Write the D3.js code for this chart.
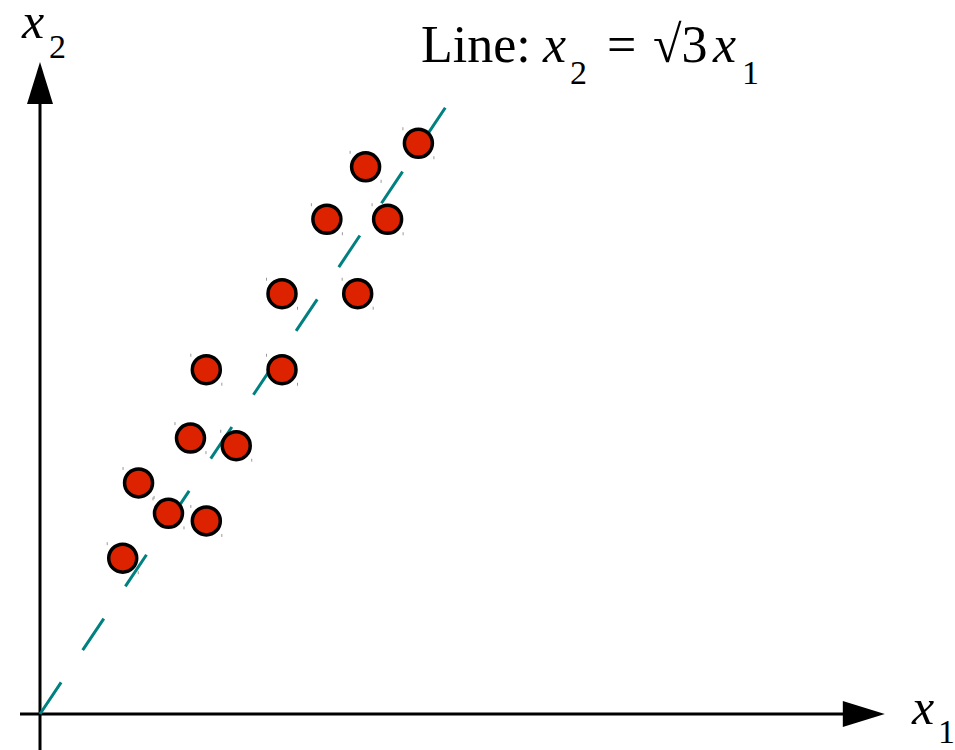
<!DOCTYPE html>
<html>
<head>
<meta charset="utf-8">
<script src="https://cdn.jsdelivr.net/npm/d3@7"></script>
<style>
  html, body { margin: 0; padding: 0; background: #fff; }
  svg { display: block; }
  text { font-family: "Liberation Serif", "Times New Roman", serif; fill: #000; }
</style>
</head>
<body>
<div id="chart"></div>
<script>
// Sample points (x1, x2) scattered around the line x2 = sqrt(3) * x1
const x1Values = [0.94, 1.12, 1.46, 1.89, 1.71, 2.23, 1.89, 2.75, 2.75, 3.61, 3.26, 3.95, 3.70, 4.30];
const x2Values = [2.05, 3.04, 2.64, 2.54, 3.63, 3.53, 4.53, 4.53, 5.53, 5.53, 6.51, 6.51, 7.20, 7.51];

// Reference line x2 = slope * x1 over this x1 range
const lineSlope = Math.sqrt(3);
const lineX1Range = [0, 4.61];

// Axis extents in data units
const x1Domain = [0, 9.6];
const x2Domain = [0, 8.58];

const width = 955, height = 750;
const origin = { x: 40, y: 714 };

const svg = d3.select("#chart").append("svg")
  .attr("width", width).attr("height", height);

const x = d3.scaleLinear().domain(x1Domain).range([origin.x, origin.x + 88 * x1Domain[1]]);
const y = d3.scaleLinear().domain(x2Domain).range([origin.y, origin.y - 76 * x2Domain[1]]);

const ox = x(0), oy = y(0);
const arrowLen = 42, arrowHalf = 13;
const xEnd = x(x1Domain[1]);   // arrow tip on x1 axis
const yEnd = y(x2Domain[1]);   // arrow tip on x2 axis

// Axes
const axes = svg.append("g").attr("class", "axes");
axes.append("line")
  .attr("x1", ox - 20).attr("y1", oy)
  .attr("x2", xEnd - arrowLen + 1).attr("y2", oy)
  .attr("stroke", "#000").attr("stroke-width", 3);
axes.append("line")
  .attr("x1", ox).attr("y1", height)
  .attr("x2", ox).attr("y2", yEnd + arrowLen - 1)
  .attr("stroke", "#000").attr("stroke-width", 3);
axes.append("path")
  .attr("d", `M${xEnd},${oy} L${xEnd - arrowLen},${oy - arrowHalf} L${xEnd - arrowLen},${oy + arrowHalf} Z`)
  .attr("fill", "#000");
axes.append("path")
  .attr("d", `M${ox},${yEnd} L${ox - arrowHalf},${yEnd + arrowLen} L${ox + arrowHalf},${yEnd + arrowLen} Z`)
  .attr("fill", "#000");

// Dashed reference line
const lineGen = d3.line().x(d => x(d)).y(d => y(lineSlope * d));
svg.append("path")
  .datum(lineX1Range)
  .attr("d", lineGen)
  .attr("fill", "none")
  .attr("stroke", "#008080")
  .attr("stroke-width", 3)
  .attr("stroke-dasharray", "38 38.8");

// Points
const points = x1Values.map((v, i) => ({ x1: v, x2: x2Values[i] }));
const r = 14;
const pts = svg.append("g").attr("class", "points");

// faint corner marks of each marker's box
const marks = pts.selectAll("g.mark").data(points).join("g").attr("class", "mark");
marks.append("line")
  .attr("x1", d => x(d.x1) - r - 1.5).attr("x2", d => x(d.x1) - r - 1.5)
  .attr("y1", d => y(d.x2) - r - 2).attr("y2", d => y(d.x2) - r + 1)
  .attr("stroke", "#999").attr("stroke-width", 1);
marks.append("line")
  .attr("x1", d => x(d.x1) + r + 1.5).attr("x2", d => x(d.x1) + r + 1.5)
  .attr("y1", d => y(d.x2) + r - 1).attr("y2", d => y(d.x2) + r + 2)
  .attr("stroke", "#999").attr("stroke-width", 1);

pts.selectAll("circle").data(points).join("circle")
  .attr("cx", d => x(d.x1))
  .attr("cy", d => y(d.x2))
  .attr("r", r)
  .attr("fill", "#dd2200")
  .attr("stroke", "#000")
  .attr("stroke-width", 3.5);

// Axis labels
const lab2 = svg.append("text").attr("x", 22).attr("y", 38).attr("font-size", 50);
lab2.append("tspan").attr("font-style", "italic").text("x");
lab2.append("tspan").attr("x", 49).attr("y", 58).attr("font-size", 34).text("2");

const lab1 = svg.append("text").attr("x", 912).attr("y", 724).attr("font-size", 50);
lab1.append("tspan").attr("font-style", "italic").text("x");
lab1.append("tspan").attr("x", 938).attr("y", 743).attr("font-size", 34).text("1");

// Line equation
const eq = svg.append("text").attr("y", 62).attr("font-size", 52);
eq.append("tspan").attr("x", 421).text("Line:");
eq.append("tspan").attr("x", 543).attr("font-style", "italic").text("x");
eq.append("tspan").attr("x", 570).attr("y", 84).attr("font-size", 34).text("2");
eq.append("tspan").attr("x", 607).attr("y", 62).text("=");
eq.append("tspan").attr("x", 653).text("\u221A3");
eq.append("tspan").attr("x", 713).attr("font-style", "italic").text("x");
eq.append("tspan").attr("x", 742).attr("y", 84).attr("font-size", 34).text("1");
</script>
</body>
</html>
